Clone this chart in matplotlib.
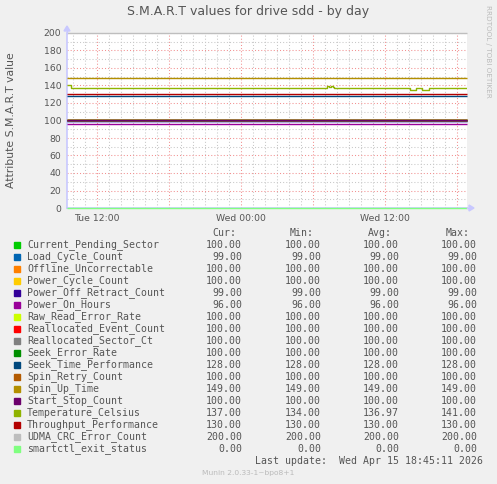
import matplotlib
matplotlib.use('Agg')
import matplotlib.pyplot as plt
from matplotlib.patches import Rectangle

# hours counted from Tue 00:00
t_start, t_end = 9.5, 42.83

names = ['Current_Pending_Sector', 'Load_Cycle_Count', 'Offline_Uncorrectable',
         'Power_Cycle_Count', 'Power_Off_Retract_Count', 'Power_On_Hours',
         'Raw_Read_Error_Rate', 'Reallocated_Event_Count', 'Reallocated_Sector_Ct',
         'Seek_Error_Rate', 'Seek_Time_Performance', 'Spin_Retry_Count',
         'Spin_Up_Time', 'Start_Stop_Count', 'Temperature_Celsius',
         'Throughput_Performance', 'UDMA_CRC_Error_Count', 'smartctl_exit_status']
colors = ['#00CC00', '#0066B3', '#FF8000', '#FFCC00', '#330099', '#990099',
          '#CCFF00', '#FF0000', '#808080', '#008F00', '#00487D', '#B35A00',
          '#B38F00', '#6B006B', '#8FB300', '#B30000', '#BEBEBE', '#80FF80']
cur = [100, 99, 100, 100, 99, 96, 100, 100, 100, 100, 128, 100, 149, 100, 137, 130, 200, 0]
mins = [100, 99, 100, 100, 99, 96, 100, 100, 100, 100, 128, 100, 149, 100, 134, 130, 200, 0]
avgs = [100, 99, 100, 100, 99, 96, 100, 100, 100, 100, 128, 100, 149, 100, 136.97, 130, 200, 0]
maxs = [100, 99, 100, 100, 99, 96, 100, 100, 100, 100, 128, 100, 149, 100, 141, 130, 200, 0]

# Temperature_Celsius is the only series that moves
temp_t = [9.5, 9.83, 31.2, 31.35, 31.5, 31.65, 31.75, 38.08, 38.58, 39.08, 39.67, 42.83]
temp_v = [140, 137, 139, 138, 139, 138, 137, 135, 137, 135, 137, 137]

W, H = 497, 484
TXT = '#555555'
AXC = '#C8C8FF'
fig = plt.figure(figsize=(W / 100, H / 100), dpi=100, facecolor='#F0F0F0')
ax = fig.add_axes([67 / W, 1 - 208 / H, 400 / W, 175 / H])
ax.set_facecolor('white')

ax.set_xlim(t_start, t_end)
ax.set_ylim(0, 200)

# grid
for h in range(10, 43):
    major = h % 6 == 0
    ax.axvline(h, color='#F29090' if major else '#C8C8C8', lw=0.75,
               ls=(0, (1, 2)), zorder=0)
for v in range(10, 201, 10):
    major = v % 20 == 0
    ax.axhline(v, color='#F29090' if major else '#C8C8C8', lw=0.75,
               ls=(0, (1, 2)), zorder=0)

# axis lines (under the data)
ax.axvline(t_start, color=AXC, lw=1.2, zorder=1, clip_on=False)
ax.axhline(0, color=AXC, lw=1.2, zorder=1, clip_on=False)

for name, col, val in zip(names, colors, cur):
    if name == 'Temperature_Celsius':
        ax.plot(temp_t, temp_v, color=col, lw=1.0, drawstyle='steps-post',
                solid_capstyle='butt', zorder=3)
    else:
        ax.plot([t_start, t_end], [val, val], color=col, lw=1.0,
                solid_capstyle='butt', clip_on=False, zorder=3)

for s in ax.spines.values():
    s.set_visible(False)
ax.tick_params(length=0, labelsize=6.7, colors=TXT, pad=4)
ax.set_yticks(range(0, 201, 20))
ax.set_xticks([12, 24, 36])
ax.set_xticklabels(['Tue 12:00', 'Wed 00:00', 'Wed 12:00'])

# axis arrow heads
x0 = 67 / W
y0 = 1 - 208 / H
fig.lines.append(plt.Line2D([x0, x0], [1 - 33 / H, 1 - 30 / H], transform=fig.transFigure,
                            color=AXC, lw=1))
fig.lines.append(plt.Line2D([467 / W, 470 / W], [y0, y0], transform=fig.transFigure,
                            color=AXC, lw=1))
fig.patches.append(plt.Polygon([[64 / W, 1 - 31 / H], [70 / W, 1 - 31 / H], [67 / W, 1 - 26 / H]],
                               closed=True, transform=fig.transFigure, color=AXC))
fig.patches.append(plt.Polygon([[469 / W, 1 - 205 / H], [469 / W, 1 - 211 / H], [474 / W, 1 - 208 / H]],
                               closed=True, transform=fig.transFigure, color=AXC))

fig.text(248 / W, 1 - 12 / H, 'S.M.A.R.T values for drive sdd - by day',
         ha='center', va='center', fontsize=9, color=TXT)
fig.text(11 / W, 1 - 120 / H, 'Attribute S.M.A.R.T value', rotation=90,
         ha='center', va='center', fontsize=7.8, color=TXT)
fig.text(488 / W, 1 - 5 / H, 'RRDTOOL / TOBI OETIKER', rotation=270,
         ha='center', va='top', fontsize=5.2, color='#BBBBBB')

mono = dict(family='DejaVu Sans Mono', fontsize=7.1, color=TXT, va='center')
col_x = [242, 321, 399, 477]
for hdr, cx in zip(['Cur:', 'Min:', 'Avg:', 'Max:'], [236, 314, 392, 470]):
    fig.text(cx / W, 1 - 233 / H, hdr, ha='right', **mono)
for i, name in enumerate(names):
    y = 245 + i * 12.0
    fig.patches.append(Rectangle((14 / W, 1 - (y + 3) / H), 6 / W, 6 / H,
                                 transform=fig.transFigure, color=colors[i]))
    fig.text(27 / W, 1 - y / H, name, ha='left', **mono)
    for cx, arr in zip(col_x, [cur, mins, avgs, maxs]):
        fig.text(cx / W, 1 - y / H, '%.2f' % arr[i], ha='right', **mono)

fig.text(483 / W, 1 - 461 / H, 'Last update:  Wed Apr 15 18:45:11 2026', ha='right', **mono)
fig.text(248 / W, 1 - 473 / H, 'Munin 2.0.33-1~bpo8+1', ha='center', va='center',
         fontsize=5.4, color='#BBBBBB')

fig.savefig('out.png', dpi=100, facecolor=fig.get_facecolor())
